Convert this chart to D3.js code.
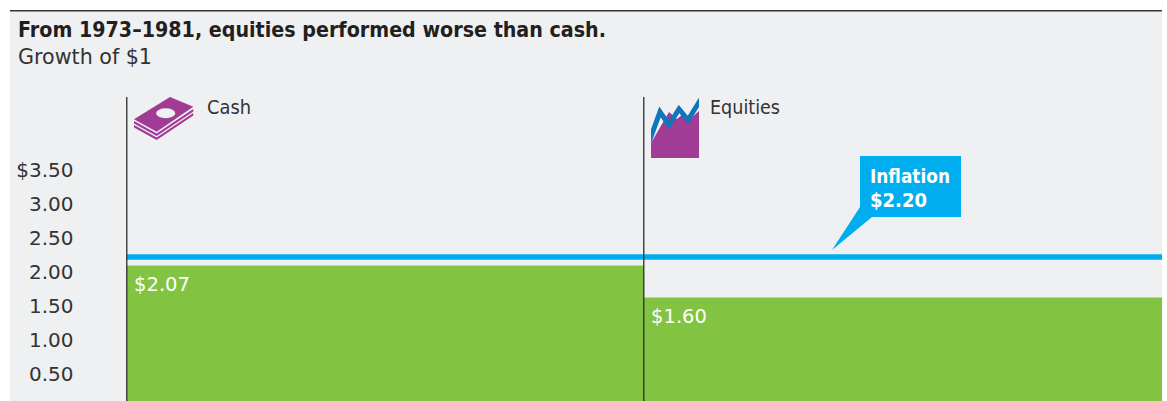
<!DOCTYPE html>
<html>
<head>
<meta charset="utf-8">
<script src="https://cdn.jsdelivr.net/npm/d3@7"></script>
<style>
  html, body { margin: 0; padding: 0; background: #fff; overflow: hidden; }
  text { font-family: "DejaVu Sans", sans-serif; fill: #333; }
</style>
</head>
<body>
<svg id="chart"></svg>
<script>
const categories = ['Cash', 'Equities'];
const growthValues = [2.07, 1.60];
const valueLabels = ['$2.07', '$1.60'];
const inflationValue = 2.20;
const inflationLabel = ['Inflation', '$2.20'];
const tickValues = [0.5, 1, 1.5, 2, 2.5, 3, 3.5];
const titleText = 'From 1973–1981, equities performed worse than cash.';
const subtitleText = 'Growth of $1';

const width = 1167, height = 401;
const panel = {left: 10, right: 1162, top: 11};

const svg = d3.select('#chart').attr('width', width).attr('height', height);

// grey panel behind everything, dark rule on top
svg.append('rect')
  .attr('x', panel.left).attr('y', panel.top)
  .attr('width', panel.right - panel.left).attr('height', height - panel.top)
  .attr('fill', '#eff0f2');
svg.append('rect')
  .attr('x', panel.left).attr('y', panel.top - 1)
  .attr('width', panel.right - panel.left).attr('height', 1.5)
  .attr('fill', '#333');

// the original face is narrower than DejaVu, so squeeze to the measured widths
svg.append('text').attr('x', 18).attr('y', 37)
  .attr('font-size', 21).attr('font-weight', 700)
  .attr('textLength', 588).attr('lengthAdjust', 'spacingAndGlyphs')
  .style('fill', '#231f20').text(titleText);
svg.append('text').attr('x', 18).attr('y', 64)
  .attr('font-size', 22).attr('textLength', 134).attr('lengthAdjust', 'spacingAndGlyphs')
  .text(subtitleText);

const x = d3.scaleBand().domain(categories).range([127, 1161]);
// 68px per dollar, baseline just under the crop
const y = d3.scaleLinear().domain([0, 3.5]).range([406.3, 168.3]);

// y axis
const yAxis = d3.axisLeft(y)
  .tickValues(tickValues)
  .tickSize(0)
  .tickPadding(0)
  .tickFormat((d) => (d === 3.5 ? '$' : '') + d3.format('.2f')(d));
const axisG = svg.append('g').attr('transform', 'translate(73.5,1.7)').call(yAxis);
axisG.select('.domain').remove();
axisG.selectAll('text').attr('font-size', 20).style('font-family', '"DejaVu Sans", sans-serif');

// bars, the last one runs to the panel edge
svg.selectAll('.bar').data(categories).enter().append('rect')
  .attr('class', 'bar')
  .attr('x', (d) => x(d))
  .attr('width', (d, i) => i === categories.length - 1 ? panel.right - x(d) : x.bandwidth())
  .attr('y', (d, i) => y(growthValues[i]))
  .attr('height', (d, i) => height - y(growthValues[i]))
  .attr('fill', '#82c341');

// value labels inside the bars
svg.selectAll('.val').data(categories).enter().append('text')
  .attr('class', 'val')
  .attr('x', (d) => x(d) + 7)
  .attr('y', (d, i) => y(growthValues[i]) + 25)
  .attr('font-size', 20)
  .attr('textLength', 56).attr('lengthAdjust', 'spacingAndGlyphs')
  .style('fill', '#fff')
  .text((d, i) => valueLabels[i]);

// column names
const catWidths = [44, 70];
svg.selectAll('.cat').data(categories).enter().append('text')
  .attr('class', 'cat')
  .attr('x', (d, i) => x(d) + (i === 0 ? 80 : 66))
  .attr('y', 114)
  .attr('font-size', 20)
  .attr('textLength', (d, i) => catWidths[i]).attr('lengthAdjust', 'spacingAndGlyphs')
  .text((d) => d);

// inflation line
svg.append('line')
  .attr('x1', x(categories[0])).attr('x2', panel.right)
  .attr('y1', y(inflationValue) + 0.3).attr('y2', y(inflationValue) + 0.3)
  .attr('stroke', '#00aeef').attr('stroke-width', 5.5);

// column dividers, the line shows over the inflation band in the original
svg.selectAll('.divider').data(categories).enter().append('line')
  .attr('class', 'divider')
  .attr('x1', (d) => x(d) - 0.25).attr('x2', (d) => x(d) - 0.25)
  .attr('y1', 97).attr('y2', height)
  .attr('stroke', '#333').attr('stroke-width', 1.5)
  .attr('stroke-opacity', 0.9);

// inflation callout
const labelWidths = [80, 57];
const callout = svg.append('g');
callout.append('path')
  .attr('d', 'M860,156H961V217H872L832,250L860,207Z')
  .attr('fill', '#00aeef');
callout.selectAll('text').data(inflationLabel).enter().append('text')
  .attr('x', 870)
  .attr('y', (d, i) => 183 + i * 24)
  .attr('font-size', 20).attr('font-weight', 700)
  .attr('textLength', (d, i) => labelWidths[i]).attr('lengthAdjust', 'spacingAndGlyphs')
  .style('fill', '#fff')
  .text((d) => d);

// cash icon: top note with a hole, two sheets under it
const cashIcon = svg.append('g').attr('transform', 'translate(134,96)').attr('fill', '#a03b96');
cashIcon.append('path').attr('d', 'M36,1L59.3,10.7L22.7,35.7L0,23.3Z');
cashIcon.append('path').attr('d', 'M0,25L22.7,37.5L59.3,13V15.5L22.7,40L0,27.5Z');
cashIcon.append('path').attr('d', 'M0,29L22.7,41.5L59.3,17V19.5L22.7,44L0,31.5Z');
cashIcon.append('ellipse')
  .attr('cx', 31.7).attr('cy', 17.3).attr('rx', 9.5).attr('ry', 5).attr('fill', '#eff0f2');

// equities icon: purple area with a blue zigzag on top, clipped to the icon box
svg.append('clipPath').attr('id', 'eq-clip').append('rect')
  .attr('x', 0).attr('y', 0).attr('width', 48).attr('height', 62);
const eqIcon = svg.append('g').attr('transform', 'translate(651,96)').attr('clip-path', 'url(#eq-clip)');
eqIcon.append('path')
  .attr('d', 'M0,47L18,16L26,23L32,18L38,24L48,15V62H0Z')
  .attr('fill', '#a03b96');
eqIcon.append('path')
  .attr('d', 'M-2,46L9,16L18,29L28,13L37,24L50,3')
  .attr('fill', 'none').attr('stroke', '#0f75bc').attr('stroke-width', 5);
</script>
</body>
</html>
